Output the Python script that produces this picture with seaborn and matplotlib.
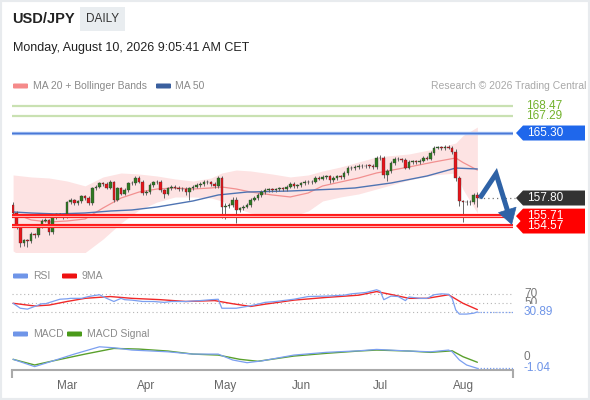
import numpy as np
import pandas as pd
import matplotlib
matplotlib.use("Agg")
from matplotlib import pyplot as plt
from matplotlib import transforms
from matplotlib.patches import Polygon, Rectangle, FancyBboxPatch
import seaborn as sns

# ---------------- data ----------------
dates = pd.bdate_range(end="2026-08-07", periods=130)

first_open = 157.0
closes = [
    156.1, 154.5, 152.6, 152.9, 152.8, 153.7, 153.5, 154.5, 155.2, 155.3,
    153.9, 155.6, 155.9, 155.8, 155.7, 157.3, 157.6, 157.2, 157.4, 158.0,
    157.8, 157.2, 158.9, 159.1, 159.5, 159.4, 159.0, 159.6, 157.6, 158.9,
    158.3, 158.7, 159.5, 159.55, 160.1, 159.7, 158.4, 158.5, 159.3, 159.6,
    159.7, 158.7, 158.3, 158.9, 159.1, 159.0, 158.8, 158.85, 158.5, 158.9,
    159.1, 159.3, 159.4, 159.7, 159.6, 159.4, 159.2, 160.1, 156.8, 156.9,
    157.0, 157.6, 156.4, 156.6, 156.8, 157.0, 157.6, 157.8, 158.15, 158.5,
    158.7, 158.8, 158.75, 158.8, 158.9, 158.8, 159.1, 159.4, 159.2, 159.25,
    159.5, 159.65, 159.6, 159.7, 160.1, 160.05, 160.2, 160.3, 159.9, 160.1,
    160.3, 160.25, 160.7, 161.3, 161.25, 161.4, 161.5, 161.45, 161.55, 161.5,
    161.4, 162.4, 162.45, 160.45, 160.9, 161.85, 162.3, 162.25, 162.2, 161.3,
    161.95, 162.0, 161.95, 162.1, 162.4, 162.35, 163.0, 163.6, 163.65, 163.55,
    163.7, 163.6, 163.1, 160.1, 157.4, 157.3, 157.35, 157.3, 158.15, 157.8,
]
wick_up = [
    0.3, 0.2, 0.2, 0.2, 0.2, 0.2, 0.1, 0.2, 0.2, 0.2,
    0.1, 0.2, 0.2, 0.2, 0.2, 0.2, 0.2, 0.1, 0.2, 0.2,
    0.2, 0.2, 0.2, 0.2, 0.2, 0.2, 0.2, 0.3, 0.2, 0.2,
    0.2, 0.2, 0.2, 0.2, 0.2, 0.2, 0.2, 0.2, 0.2, 0.2,
    0.2, 0.2, 0.1, 0.2, 0.2, 0.2, 0.2, 0.2, 0.2, 0.2,
    0.2, 0.2, 0.2, 0.2, 0.2, 0.2, 0.2, 0.2, 0.2, 0.3,
    0.2, 0.3, 0.3, 0.2, 0.2, 0.2, 0.2, 0.2, 0.2, 0.2,
    0.2, 0.2, 0.2, 0.2, 0.2, 0.2, 0.2, 0.2, 0.2, 0.2,
    0.2, 0.2, 0.2, 0.2, 0.2, 0.2, 0.2, 0.2, 0.2, 0.2,
    0.2, 0.2, 0.2, 0.2, 0.2, 0.2, 0.2, 0.2, 0.2, 0.2,
    0.2, 0.2, 0.3, 0.2, 0.2, 0.2, 0.2, 0.2, 0.2, 0.2,
    0.2, 0.2, 0.2, 0.2, 0.2, 0.2, 0.2, 0.2, 0.2, 0.2,
    0.2, 0.2, 0.2, 0.3, 0.2, 0.2, 0.2, 0.2, 0.2, 0.3,
]
wick_dn = [
    0.3, 0.3, 0.5, 0.3, 0.6, 0.2, 0.3, 0.2, 0.2, 0.2,
    0.4, 0.2, 0.2, 0.2, 0.3, 0.2, 0.2, 0.2, 0.2, 0.2,
    0.2, 0.2, 0.2, 0.2, 0.2, 0.2, 0.2, 0.2, 0.3, 0.2,
    0.2, 0.2, 0.2, 0.2, 0.2, 0.2, 0.3, 0.2, 0.2, 0.2,
    0.2, 0.2, 0.5, 0.2, 0.2, 0.2, 0.2, 0.2, 0.3, 0.9,
    0.2, 0.2, 0.2, 0.2, 0.2, 0.2, 0.2, 0.2, 1.3, 1.4,
    0.3, 0.2, 1.5, 0.2, 0.2, 0.2, 0.2, 0.2, 0.2, 0.2,
    0.2, 0.2, 0.2, 0.2, 0.2, 0.2, 0.2, 0.2, 0.2, 0.2,
    0.2, 0.2, 0.2, 0.2, 0.2, 0.2, 0.2, 0.2, 0.4, 0.2,
    0.2, 0.2, 0.2, 0.2, 0.2, 0.2, 0.2, 0.2, 0.2, 0.2,
    0.2, 0.2, 0.2, 0.3, 0.7, 0.2, 0.2, 0.2, 0.2, 0.2,
    0.2, 0.2, 0.2, 0.2, 0.2, 0.2, 0.2, 0.2, 0.2, 0.2,
    0.2, 0.2, 0.2, 0.3, 0.5, 2.3, 0.3, 0.3, 0.2, 1.0,
]

band_idx = [0, 5, 10, 15, 20, 25, 30, 35, 40, 45, 50, 55, 58, 62, 66, 72, 77,
            82, 86, 91, 96, 101, 110, 117, 123, 125, 129]
ma20 = [156.07, 155.27, 155.03, 155.15, 155.38, 156.65, 157.80, 158.49, 158.84,
        158.96, 158.84, 158.96, 159.07, 158.84, 158.49, 158.15, 157.92, 158.38,
        159.19, 159.65, 160.11, 160.69, 161.38, 161.96, 162.42, 161.9, 161.03]
bb_upper = [160.46, 160.23, 160.11, 159.76, 159.2, 160.23, 160.69, 160.57, 160.34,
            160.0, 159.76, 160.11, 160.69, 161.03, 160.92, 160.57, 160.23, 160.46,
            160.92, 161.38, 161.96, 162.53, 162.88, 163.46, 164.15, 165.0, 165.99]
bb_lower = [151.7, 150.3, 149.96, 150.5, 151.5, 153.07, 154.92, 156.42, 157.34,
            157.92, 157.92, 157.8, 157.46, 156.65, 156.07, 155.73, 155.61, 156.30,
            157.46, 157.92, 158.27, 158.84, 159.88, 160.46, 160.69, 158.8, 156.07]

ma50_idx = [0, 5, 12, 20, 27, 33, 40, 50, 57, 65, 77, 90, 95, 105, 115, 123, 129]
ma50 = [156.19, 156.07, 155.96, 156.07, 156.30, 156.42, 156.76, 157.46, 158.15,
        158.49, 158.61, 158.84, 158.96, 159.53, 160.34, 161.26, 161.15]

green_levels = [168.47, 167.29]
blue_level = 165.30
red_levels = [155.71, 154.57]
last_close = 157.80

forecast_x = [129.7, 134.2, 138.6]
forecast_y = [157.8, 160.6, 154.7]

rsi_idx = [0, 2, 4, 6, 8, 9, 11, 13, 15, 16, 19, 21, 24, 26, 28, 30, 31, 33, 36,
           39, 42, 44, 48, 52, 55, 57, 58, 60, 62, 65, 68, 70, 73, 78, 82, 87, 92,
           94, 98, 101, 102, 103, 105, 107, 109, 110, 113, 115, 117, 119, 121,
           122, 123, 124, 126, 128, 129]
rsi = [50, 39, 37, 43, 49, 49, 54, 59, 60, 61, 61, 65, 69, 61, 54, 61, 58, 57, 54,
       54, 52, 54, 54, 56, 58, 59, 39, 39, 39, 43, 48, 52, 54, 59, 65, 66, 68,
       71, 74, 80, 77, 58, 66, 65, 56, 64, 61, 61, 69, 71, 70, 61, 35, 26, 26,
       28, 30.89]
rsi_ma_idx = [0, 6, 10, 15, 20, 27, 33, 41, 48, 56, 61, 66, 70, 78, 87, 96, 101,
              106, 110, 115, 121, 125, 129]
rsi_ma = [50, 44, 46, 54, 61, 65, 61, 58, 54, 56, 49, 43, 48, 57, 63, 68, 76, 68,
          61, 61, 69, 50, 36]

macd_idx = [0, 6, 11, 17, 24, 28, 33, 43, 50, 57, 61, 65, 69, 78, 87, 96, 101,
            110, 116, 121, 122, 124, 126, 129]
macd = [-0.21, -0.88, -0.36, 0.27, 0.94, 0.85, 0.64, 0.48, 0.27, 0.27, -0.27,
        -0.52, -0.36, 0.18, 0.43, 0.57, 0.70, 0.55, 0.48, 0.64, 0.48, -0.27,
        -0.73, -1.04]
signal_idx = [0, 6, 11, 20, 28, 35, 43, 50, 57, 63, 68, 78, 87, 96, 101, 110,
              116, 122, 125, 129]
signal = [-0.21, -0.73, -0.36, 0.27, 0.79, 0.73, 0.55, 0.27, 0.18, -0.21, -0.39,
          0.09, 0.34, 0.55, 0.64, 0.55, 0.43, 0.57, 0.03, -0.48]

# ---------------- style ----------------
sns.set_theme(style="white")
plt.rcParams['font.family'] = ['Liberation Sans', 'DejaVu Sans']

W, H = 590, 400
fig = plt.figure(figsize=(W / 100, H / 100), dpi=100, facecolor="white")


def fx(px):
    return px / W


def fy(py):
    return 1 - py / H


XMIN, XMAX = -0.3, 138.9
L, R = 12, 513

ax = fig.add_axes([fx(L), fy(252), fx(R) - fx(L), (252 - 98) / H])
ax_r = fig.add_axes([fx(L), fy(318), fx(R) - fx(L), (318 - 287) / H])
ax_m = fig.add_axes([fx(L), fy(370), fx(R) - fx(L), (370 - 342) / H])
for a in (ax, ax_r, ax_m):
    a.set_xlim(XMIN, XMAX)
    a.set_facecolor("none")
    for s in a.spines.values():
        s.set_visible(False)
    a.set_xticks([])
    a.set_yticks([])
    a.set_xlabel("")
    a.set_ylabel("")

ax.set_ylim(151.57, 169.34)
ax_r.set_ylim(17.3, 86.2)
ax_m.set_ylim(-1.19, 1.38)

# ---------------- main price panel ----------------
ax.fill_between(band_idx, bb_lower, bb_upper, color="#fde3e3", lw=0, zorder=1)
sns.lineplot(x=band_idx, y=ma20, ax=ax, color="#f29090", lw=0.9, zorder=2)
sns.lineplot(x=ma50_idx, y=ma50, ax=ax, color="#4f74b3", lw=1.0, zorder=2)

for v in green_levels:
    ax.axhline(v, color="#c9e1b2", lw=1.6, zorder=1)
ax.axhline(blue_level, color="#9dbaf0", lw=2.4, zorder=1)
ax.axhline(blue_level, color="#4a78d6", lw=1.0, zorder=1)
for v in red_levels:
    ax.axhline(v, color="#ff1a1a", lw=3.0, zorder=5)
    ax.axhline(v, color="#ffb0b0", lw=0.8, zorder=5)

opens = np.array([first_open] + closes[:-1])
c = np.array(closes)
idx = np.arange(len(c))
body_lo = np.minimum(opens, c)
body_h = np.maximum(np.abs(c - opens), 0.07)
highs = np.maximum(opens, c) + np.array(wick_up)
lows = body_lo - np.array(wick_dn)
colors = np.where(c > opens + 0.03, "#2f7a22",
                  np.where(c < opens - 0.03, "#e8141a", "#666666"))
ax.vlines(idx, lows, highs, color="#666666", lw=0.7, zorder=3)
ax.bar(idx, body_h, bottom=body_lo, width=0.72, color=colors,
       edgecolor="#333333", linewidth=0.25, zorder=4)

ax.plot([idx[-1] + 0.5, XMAX + 0.5], [last_close, last_close], color="#777777",
        lw=0.9, ls=(0, (1, 2.5)), zorder=3, clip_on=False)

# forecast arrow
fxs = np.array(forecast_x)
fys = np.array(forecast_y)
mid_x = fxs[1] + 0.72 * (fxs[2] - fxs[1])
mid_y = fys[1] + 0.72 * (fys[2] - fys[1])
ax.plot([fxs[0], fxs[1], mid_x], [fys[0], fys[1], mid_y], color="#2e62a6",
        lw=3.6, solid_joinstyle="miter", solid_capstyle="butt", zorder=6,
        clip_on=False)
ax.annotate("", xy=(fxs[2], fys[2]), xytext=(mid_x, mid_y),
            arrowprops=dict(arrowstyle="-|>,head_width=0.55,head_length=0.9",
                            color="#2e62a6", lw=0.5, shrinkA=0, shrinkB=0,
                            mutation_scale=12),
            zorder=6, annotation_clip=False)

# right side labels for main panel
bt = transforms.blended_transform_factory(fig.transFigure, ax.transData)
for v in green_levels:
    ax.text(fx(526), v, f"{v:.2f}", transform=bt, color="#72b22c", fontsize=8.5,
            va="center", ha="left", clip_on=False)

hh = 7.5 / 8.67


def tag(a, value, face, text_value=None):
    trans = transforms.blended_transform_factory(fig.transFigure, a.transData)
    pts = [(fx(516), value), (fx(523), value + hh), (fx(585), value + hh),
           (fx(585), value - hh), (fx(523), value - hh)]
    a.add_patch(Polygon(pts, closed=True, transform=trans, facecolor=face,
                        edgecolor="none", clip_on=False, zorder=10))
    a.text(fx(527), value, f"{value:.2f}", transform=trans, color="white",
           fontsize=8.5, va="center", ha="left", clip_on=False, zorder=11)


tag(ax, blue_level, "#1f67eb")
tag(ax, last_close, "#333333")
tag(ax, red_levels[0], "#ff0000")
tag(ax, red_levels[1], "#ff0000")

# ---------------- RSI panel ----------------
for v in (70, 50, 30):
    ax_r.axhline(v, color="#b5b5b5", lw=0.8, ls=(0, (1, 2.5)), zorder=1)
sns.lineplot(x=rsi_ma_idx, y=rsi_ma, ax=ax_r, color="#f02828", lw=1.0, zorder=2)
sns.lineplot(x=rsi_idx, y=rsi, ax=ax_r, color="#7b9ff0", lw=0.9, zorder=3)
ax_r.plot([rsi_idx[-1], XMAX], [rsi[-1], rsi[-1]], color="#7b9ff0", lw=0.9,
          ls=(0, (1, 1.5)), zorder=3)
rt = transforms.blended_transform_factory(fig.transFigure, ax_r.transData)
ax_r.text(fx(524), 70, "70", transform=rt, color="#777777", fontsize=8.5,
          va="center", clip_on=False)
ax_r.text(fx(524), 50, "50", transform=rt, color="#777777", fontsize=8.5,
          va="center", clip_on=False)
ax_r.text(fx(524), rsi[-1], f"{rsi[-1]:.2f}", transform=rt, color="#6f95e8",
          fontsize=8.5, va="center", clip_on=False,
          bbox=dict(facecolor="white", edgecolor="none", pad=1.2))

# ---------------- MACD panel ----------------
sns.lineplot(x=signal_idx, y=signal, ax=ax_m, color="#5aa02c", lw=1.0, zorder=2)
sns.lineplot(x=macd_idx, y=macd, ax=ax_m, color="#7b9ff0", lw=0.9, zorder=3)
ax_m.plot([macd_idx[-1], XMAX], [macd[-1], macd[-1]], color="#7b9ff0", lw=0.9,
          ls=(0, (1, 1.5)), zorder=3)
mt = transforms.blended_transform_factory(fig.transFigure, ax_m.transData)
ax_m.text(fx(524), 0, "0", transform=mt, color="#777777", fontsize=8.5,
          va="center", clip_on=False)
ax_m.text(fx(524), macd[-1], f"{macd[-1]:.2f}", transform=mt, color="#6f95e8",
          fontsize=8.5, va="center", clip_on=False)

ax_m.spines["bottom"].set_visible(True)
ax_m.spines["bottom"].set_color("#aaaaaa")
ax_m.spines["bottom"].set_linewidth(1.5)
month_pos = []
month_lab = []
for i, d in enumerate(dates):
    if i > 0 and d.month != dates[i - 1].month:
        month_pos.append(i)
        month_lab.append(d.strftime("%b"))
ax_m.set_xticks(month_pos)
ax_m.set_xticklabels(month_lab, color="#666666", fontsize=8.5)
ax_m.set_xticks([XMIN + 0.1, XMAX - 0.1], minor=True)
ax_m.tick_params(axis="x", which="major", length=0, pad=7)
ax_m.tick_params(axis="x", which="minor", length=6, width=1.5, color="#aaaaaa",
                 direction="out", bottom=True)

# ---------------- header and legends ----------------
fig.text(fx(12), fy(19), "USD/JPY", fontsize=10.5, fontweight="bold",
         color="#222222", va="center", ha="left")
fig.patches.append(Rectangle((fx(80), fy(31)), fx(45), 24 / H,
                             transform=fig.transFigure, facecolor="#e9edf0",
                             edgecolor="none"))
fig.text(fx(102.5), fy(19), "DAILY", fontsize=8.5, color="#333333",
         va="center", ha="center")
fig.text(fx(13), fy(48), "Monday, August 10, 2026 9:05:41 AM CET", fontsize=9,
         color="#222222", va="center", ha="left")


def legend_item(px, py, color, label, text_px):
    fig.patches.append(FancyBboxPatch((fx(px), fy(py + 2.5)), fx(15), 5 / H,
                                      boxstyle="round,pad=0,rounding_size=0.002",
                                      transform=fig.transFigure,
                                      facecolor=color, edgecolor="none"))
    fig.text(fx(text_px), fy(py), label, fontsize=7.5, color="#8a8a8a",
             va="center", ha="left")


legend_item(13, 86, "#f58a8a", "MA 20 + Bollinger Bands", 33)
legend_item(156, 86, "#3a5f9e", "MA 50", 175)
fig.text(fx(586), fy(86), "Research \u00a9 2026 Trading Central", fontsize=7.5,
         color="#a8a8a8", va="center", ha="right")
legend_item(13, 276, "#6f95e8", "RSI", 33)
legend_item(62, 276, "#ee1111", "9MA", 81)
legend_item(13, 334, "#6f95e8", "MACD", 33)
legend_item(67, 334, "#4a9a1a", "MACD Signal", 87)

fig.patches.append(Rectangle((0, 0), 1, 1, transform=fig.transFigure,
                             fill=False, edgecolor="#e8ebee", lw=3))

fig.savefig("out.png", dpi=100, facecolor="white")
